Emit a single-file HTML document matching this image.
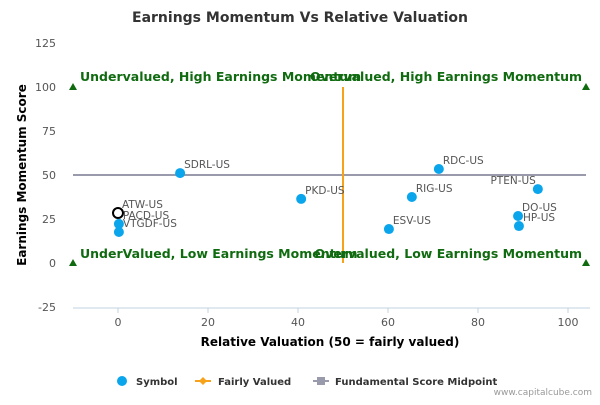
<!DOCTYPE html>
<html><head><meta charset="utf-8"><style>
body{margin:0;background:#fff;font-family:"Liberation Sans","DejaVu Sans",sans-serif}
</style></head><body>
<svg width="600" height="400" viewBox="0 0 600 400" font-family="DejaVu Sans, Liberation Sans, sans-serif">
<rect width="600" height="400" fill="#fff"/>
<text x="300" y="22" text-anchor="middle" font-size="14" font-weight="bold" fill="#333">Earnings Momentum Vs Relative Valuation</text>
<g id="grid"></g><g id="axes"></g><g id="marks"></g>
<text x="330" y="346" text-anchor="middle" font-size="12" font-weight="bold" fill="#000">Relative Valuation (50 = fairly valued)</text>
<text transform="translate(26,175) rotate(-90)" text-anchor="middle" font-size="12" font-weight="bold" fill="#000">Earnings Momentum Score</text>
<g font-size="10" font-weight="bold" fill="#333">
<g><circle cx="122" cy="381" r="5" fill="#0ba5ec"/><text x="136" y="385">Symbol</text></g>
<g><line x1="195" y1="381" x2="211" y2="381" stroke="#f7a21b" stroke-width="2"/><path d="M203 377 L207 381 L203 385 L199 381Z" fill="#f7a21b"/><text x="218" y="385">Fairly Valued</text></g>
<g><line x1="313" y1="381" x2="329" y2="381" stroke="#999aab" stroke-width="2"/><rect x="317" y="377" width="8" height="8" fill="#999aab"/><text x="335" y="385">Fundamental Score Midpoint</text></g>
</g>
<text x="592" y="395" text-anchor="end" font-size="9" fill="#999">www.capitalcube.com</text>
</svg>
<script>
const symbols=["SDRL-US","ATW-US","PACD-US","VTGDF-US","PKD-US","ESV-US","RIG-US","RDC-US","PTEN-US","DO-US","HP-US"];
const valuation=[13.8,0,0.2,0.2,40.7,60.2,65.3,71.3,93.3,88.9,89.1];
const momentum=[51.1,28.4,22.2,17.6,36.4,19.3,37.5,53.4,42.0,26.7,21.0];
const xTicks=[0,20,40,60,80,100];
const yTicks=[-25,0,25,50,75,100,125];
const NS="http://www.w3.org/2000/svg";
const X=v=>118+v*4.5, Y=v=>263-v*1.76;
function mk(t,a,p){const e=document.createElementNS(NS,t);for(const k in a)e.setAttribute(k,a[k]);p.appendChild(e);return e;}
const axes=document.getElementById('axes'),marks=document.getElementById('marks');
mk('line',{x1:73,y1:308,x2:590,y2:308,stroke:'#c0d0e0'},axes);
xTicks.forEach(t=>{mk('line',{x1:X(t),y1:308,x2:X(t),y2:313,stroke:'#c0d0e0'},axes);
const e=mk('text',{x:X(t),y:326,'text-anchor':'middle','font-size':11,fill:'#555'},axes);e.textContent=t;

});
yTicks.forEach(t=>{const e=mk('text',{x:56,y:Y(t)+4,'text-anchor':'end','font-size':11,fill:'#555'},axes);e.textContent=t;

});
const mid=mk('line',{x1:X(-10),y1:Y(50),x2:X(104),y2:Y(50),stroke:'#999aab','stroke-width':2},marks);


const fv=mk('line',{x1:X(50),y1:Y(100),x2:X(50),y2:Y(0),stroke:'#f7a21b','stroke-width':2},marks);


[[-10,100],[104,100],[-10,0],[104,0]].forEach(p=>{const t=mk('path',{d:`M${X(p[0])} ${Y(p[1])-4} l4 7 h-8z`,fill:'#106b10'},marks);

});
const q=[["Undervalued, High Earnings Momentum",80,81,'start'],["Overvalued, High Earnings Momentum",582,81,'end'],["UnderValued, Low Earnings Momentum",80,258,'start'],["Overvalued, Low Earnings Momentum",582,258,'end']];
q.forEach(a=>{const e=mk('text',{x:a[1],y:a[2],'text-anchor':a[3],'font-size':12.5,'font-weight':'bold',fill:'#106b10'},marks);e.textContent=a[0];

});
symbols.forEach((s,i)=>{const cx=X(valuation[i]),cy=Y(momentum[i]);
const c=mk('circle',{cx,cy,r:5,fill:s==='ATW-US'?'#fff':'#0ba5ec',stroke:s==='ATW-US'?'#000':'none','stroke-width':2},marks);


const left=s==='PTEN-US';
const t=mk('text',{x:left?cx-2:cx+4,y:cy-5,'text-anchor':left?'end':'start','font-size':10.5,fill:'#555'},marks);t.textContent=s;

});
</script>
</body></html>
